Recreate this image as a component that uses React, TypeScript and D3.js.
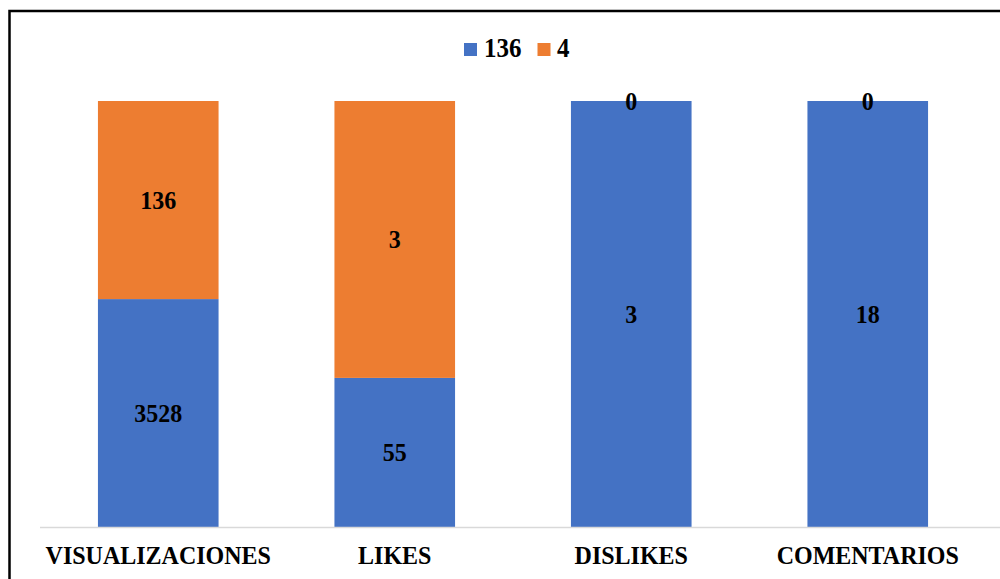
import React from "react";
import * as d3 from "d3";

const categories = ["VISUALIZACIONES", "LIKES", "DISLIKES", "COMENTARIOS"];
const seriesNames = ["136", "4"];
// share of each bar (percent) as drawn
const blueShare = [53.5, 35, 100, 100];
const orangeShare = [46.5, 65, 0, 0];
// data labels shown on segments
const blueLabels = ["3528", "55", "3", "18"];
const orangeLabels = ["136", "3", "0", "0"];

const colors = ["#4472C4", "#ED7D31"];

const font = "'Liberation Serif', 'Times New Roman', serif";

function T({ x, y, children, size = 24, anchor = "middle" }: { x: number; y: number; children: React.ReactNode; size?: number; anchor?: string }) {
  return (
    <g transform={`translate(${x},${y}) scale(1,1.07)`}>
      <text x={0} y={0} textAnchor={anchor as any} fontFamily={font} fontWeight="bold" fontSize={size}>{children}</text>
    </g>
  );
}

export default function App() {
  const W = 1000, H = 579;
  const x = d3.scaleBand<string>().domain(categories).range([40, 986]).paddingInner(0.49).paddingOuter(0.245);
  const y = d3.scaleLinear().domain([0, 100]).range([527, 101]);

  const rows = categories.map((c, i) => ({ c, b: blueShare[i], o: orangeShare[i], bl: blueLabels[i], ol: orangeLabels[i] }));

  return (
    <svg width={W} height={H} style={{ position: "absolute", left: 0, top: 0, background: "#fff" }}>
      <rect x={9.5} y={11} width={W + 20} height={H + 20} fill="#fff" stroke="#000" strokeWidth={2.5} />
      {/* legend */}
      <rect x={464} y={43} width={13} height={13} fill={colors[0]} />
      <T x={484} y={57} size={25} anchor="start">{seriesNames[0]}</T>
      <rect x={537.5} y={43} width={13} height={13} fill={colors[1]} />
      <T x={557} y={57} size={25} anchor="start">{seriesNames[1]}</T>
      {rows.map((r) => {
        const x0 = x(r.c)!;
        const bw = x.bandwidth();
        const yb = y(r.b);
        const yo = y(r.b + r.o);
        return (
          <g key={r.c}>
            <rect x={x0} y={yb} width={bw} height={y(0) - yb} fill={colors[0]} />
            <rect x={x0} y={yo} width={bw} height={yb - yo} fill={colors[1]} />
            <T x={x0 + bw / 2} y={(y(0) + yb) / 2 + 8.5}>{r.bl}</T>
            <T x={x0 + bw / 2} y={(yb + yo) / 2 + 8.5}>{r.ol}</T>
          </g>
        );
      })}
      <line x1={40} x2={1000} y1={527.5} y2={527.5} stroke="#D9D9D9" strokeWidth={1.5} />
      {categories.map((c) => (
        <T key={c} x={x(c)! + x.bandwidth() / 2} y={564}>{c}</T>
      ))}
    </svg>
  );
}
